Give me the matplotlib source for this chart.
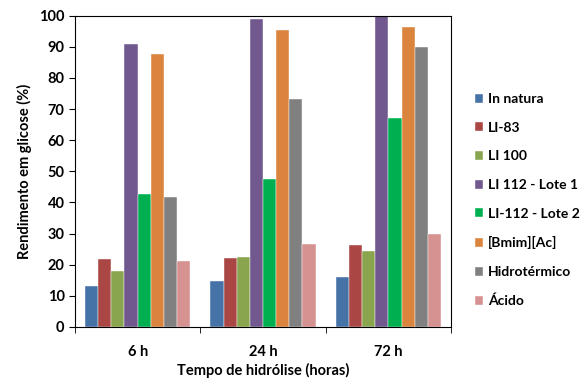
import numpy as np
import matplotlib
matplotlib.use("Agg")
import matplotlib.pyplot as plt

plt.rcParams['font.family'] = ['Lato', 'DejaVu Sans']
plt.rcParams['font.weight'] = 'bold'

# dados
tempos = ['6 h', '24 h', '72 h']
series = ['In natura', 'LI-83', 'LI 100', 'LI 112 - Lote 1', 'LI-112 - Lote 2',
          '[Bmim][Ac]', 'Hidrotérmico', 'Ácido']
in_natura = [13.1, 14.7, 16.2]
li_83 = [21.7, 22.2, 26.3]
li_100 = [18.0, 22.4, 24.4]
li112_lote1 = [90.8, 99.0, 100.0]
li112_lote2 = [42.7, 47.7, 67.1]
bmim_ac = [87.8, 95.4, 96.5]
hidrotermico = [41.6, 73.2, 90.0]
acido = [21.2, 26.6, 29.8]
valores = [in_natura, li_83, li_100, li112_lote1, li112_lote2, bmim_ac, hidrotermico, acido]
cores = ['#4572A7', '#AA4643', '#89A54E', '#71588F', '#00B050', '#DB843D', '#808080', '#D59291']

fig = plt.figure(figsize=(5.84, 3.80), dpi=100)
ax = fig.add_axes([0.1284, 0.1395, 0.6439, 0.8192])

x = np.arange(len(tempos))
n = len(series)
largura = 0.84 / n
for i, (nome, v, c) in enumerate(zip(series, valores, cores)):
    ax.bar(x - 0.42 + largura * (i + 0.5), v, largura, color=c, label=nome,
           edgecolor='white', linewidth=0.3)

ax.set_xlim(-0.5, 2.5)
ax.set_ylim(0, 100)
ax.set_yticks(range(0, 101, 10))
ax.set_xticks(x)
ax.set_xticklabels(tempos, fontsize=10.5, fontweight='bold')
ax.set_xticks([-0.5, 0.5, 1.5, 2.5], minor=True)
ax.tick_params(axis='x', which='major', length=0, pad=13)
ax.tick_params(axis='x', which='minor', length=4, direction='out')
ax.tick_params(axis='y', labelsize=10.5, length=4, direction='out')
for lbl in ax.get_yticklabels():
    lbl.set_fontweight('bold')
for s in ax.spines.values():
    s.set_linewidth(0.8)

ax.set_ylabel('Rendimento em glicose (%)', fontsize=10.5, fontweight='bold', labelpad=5)
ax.set_xlabel('Tempo de hidrólise (horas)', fontsize=10.5, fontweight='bold', labelpad=3)

fig.legend(loc='upper left', bbox_to_anchor=(0.813, 0.755), frameon=False,
           fontsize=10, handlelength=0.6, handleheight=0.6, handletextpad=0.35,
           labelspacing=1.2, borderaxespad=0, borderpad=0)

fig.savefig('out.png', dpi=100)
